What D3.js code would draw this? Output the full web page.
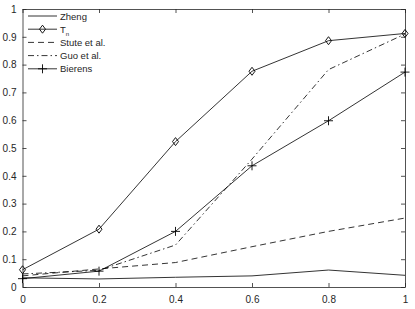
<!DOCTYPE html>
<html>
<head>
<meta charset="utf-8">
<script src="https://d3js.org/d3.v7.min.js"></script>
<style>
  body { margin: 0; background: #fff; }
  text { font-family: "Liberation Sans", Arial, sans-serif; }
</style>
</head>
<body>
<div id="chart"></div>
<script>
// values
var xs = [0, 0.2, 0.4, 0.6, 0.8, 1];
var zheng   = [0.033, 0.029, 0.035, 0.040, 0.061, 0.042];
var tn      = [0.062, 0.208, 0.523, 0.776, 0.886, 0.912];
var stute   = [0.040, 0.065, 0.088, 0.145, 0.200, 0.248];
var guo     = [0.047, 0.060, 0.151, 0.460, 0.782, 0.910];
var bierens = [0.030, 0.057, 0.200, 0.436, 0.598, 0.773];
var xTicks = [0, 0.2, 0.4, 0.6, 0.8, 1];
var yTicks = [0, 0.1, 0.2, 0.3, 0.4, 0.5, 0.6, 0.7, 0.8, 0.9, 1];

var width = 415, height = 309;
var margin = {top: 9, left: 22.5, right: 10, bottom: 22};

var svg = d3.select("#chart").append("svg")
  .attr("width", width)
  .attr("height", height);

var x = d3.scaleLinear().domain([0, 1]).range([margin.left, width - margin.right]);
var y = d3.scaleLinear().domain([0, 1]).range([height - margin.bottom, margin.top]);

// box with inward ticks on all sides
var tickLen = 4;
var axisColor = "#262626";
svg.append("g")
  .attr("transform", "translate(0," + y(0) + ")")
  .call(d3.axisBottom(x).tickValues(xTicks).tickSizeInner(-tickLen).tickSizeOuter(0).tickPadding(9).tickFormat(d3.format("")));
svg.append("g")
  .attr("transform", "translate(0," + y(1) + ")")
  .call(d3.axisTop(x).tickValues(xTicks).tickSizeInner(-tickLen).tickSizeOuter(0).tickFormat(""));
svg.append("g")
  .attr("transform", "translate(" + x(0) + ",0)")
  .call(d3.axisLeft(y).tickValues(yTicks).tickSizeInner(-tickLen).tickSizeOuter(0).tickPadding(6).tickFormat(d3.format("")));
svg.append("g")
  .attr("transform", "translate(" + x(1) + ",0)")
  .call(d3.axisRight(y).tickValues(yTicks).tickSizeInner(-tickLen).tickSizeOuter(0).tickFormat(""));

svg.selectAll(".domain, .tick line").attr("stroke", axisColor).attr("stroke-width", 0.8);
svg.selectAll(".tick text").attr("fill", axisColor).style("font-size", "10px");

var series = [
  {name: "Zheng", values: zheng, dash: null, marker: null},
  {name: "T", sub: "n", values: tn, dash: null, marker: "diamond"},
  {name: "Stute et al.", values: stute, dash: "6,4", marker: null},
  {name: "Guo et al.", values: guo, dash: "6,3,1.5,3", marker: null},
  {name: "Bierens", values: bierens, dash: null, marker: "plus"}
];

var line = d3.line()
  .x(function(d, i) { return x(xs[i]); })
  .y(function(d) { return y(d); });

function drawMarker(g, kind, cx, cy) {
  if (kind == "diamond") {
    g.append("path")
      .attr("d", "M" + cx + "," + (cy - 4) + "L" + (cx + 3) + "," + cy + "L" + cx + "," + (cy + 4) + "L" + (cx - 3) + "," + cy + "Z")
      .attr("fill", "none").attr("stroke", "#000").attr("stroke-width", 0.9);
  } else if (kind == "plus") {
    g.append("path")
      .attr("d", "M" + (cx - 4.5) + "," + cy + "H" + (cx + 4.5) + "M" + cx + "," + (cy - 4.5) + "V" + (cy + 4.5))
      .attr("fill", "none").attr("stroke", "#000").attr("stroke-width", 0.9);
  }
}

series.forEach(function(s) {
  var g = svg.append("g");
  g.append("path")
    .datum(s.values)
    .attr("d", line)
    .attr("fill", "none")
    .attr("stroke", "#000")
    .attr("stroke-width", 0.8)
    .attr("stroke-dasharray", s.dash);
  if (s.marker) {
    s.values.forEach(function(v, i) { drawMarker(g, s.marker, x(xs[i]), y(v)); });
  }
});

// legend, no box
var legend = svg.append("g");
series.forEach(function(s, i) {
  var ly = 16 + i * 13.2;
  legend.append("line")
    .attr("x1", 28).attr("x2", 57)
    .attr("y1", ly).attr("y2", ly)
    .attr("stroke", "#000").attr("stroke-width", 0.8)
    .attr("stroke-dasharray", s.dash);
  if (s.marker) drawMarker(legend, s.marker, 42.5, ly);
  var t = legend.append("text")
    .attr("x", 60).attr("y", ly + 3.5)
    .attr("fill", axisColor)
    .style("font-size", "9.5px")
    .text(s.name);
  if (s.sub) {
    t.append("tspan").attr("dy", 3.5).style("font-size", "6px").text(s.sub);
  }
});
</script>
</body>
</html>
